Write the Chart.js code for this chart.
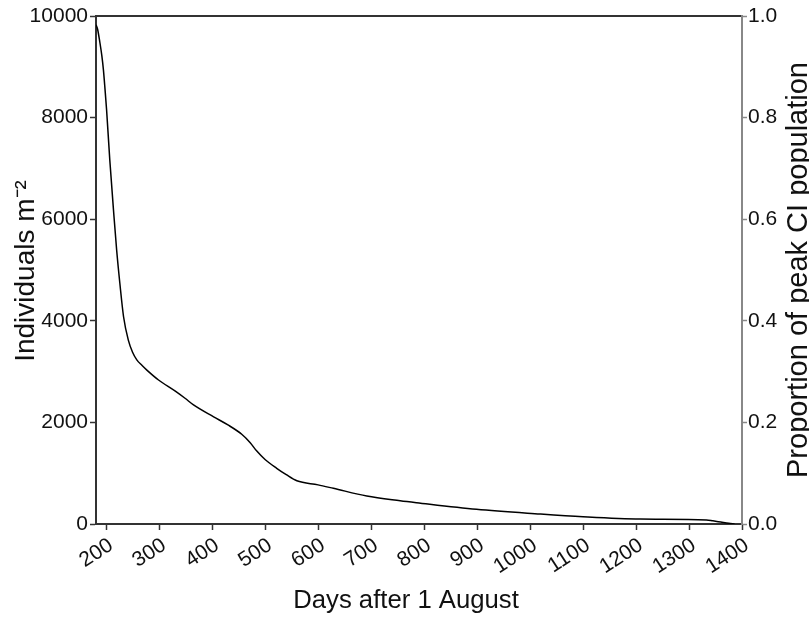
<!DOCTYPE html>
<html>
<head>
<meta charset="utf-8">
<script src="https://cdn.jsdelivr.net/npm/chart.js@4.4.1/dist/chart.umd.min.js"></script>
<style>
html,body{margin:0;padding:0;background:#fff;}
#wrap{width:809px;height:617px;position:relative;}
</style>
</head>
<body>
<div id="wrap"><canvas id="c" width="809" height="617"></canvas></div>
<script>
const days = [181, 184, 188, 192, 195, 198, 201, 207, 214, 220, 226, 233, 242, 250, 258, 268, 277, 299, 330, 349, 365, 403, 430, 456, 472, 484, 500, 522, 540, 560, 600, 629, 692, 755, 786, 899, 1019, 1100, 1208, 1333, 1345, 1360, 1375, 1386];
const individuals = [9830, 9740, 9500, 9220, 8940, 8560, 8150, 7170, 6180, 5390, 4740, 4080, 3620, 3380, 3230, 3120, 3030, 2835, 2620, 2475, 2345, 2110, 1950, 1766, 1600, 1440, 1270, 1096, 970, 850, 770, 702, 551, 459, 420, 289, 197, 144, 98, 79, 62, 38, 14, 0];
const xTicks = [200, 300, 400, 500, 600, 700, 800, 900, 1000, 1100, 1200, 1300, 1400];
const yTicks = [0, 2000, 4000, 6000, 8000, 10000];
const propTicks = [0, 0.2, 0.4, 0.6, 0.8, 1.0];
const xTitle = 'Days after 1 August';
const yTitle = 'Individuals m\u207B\u00B2';
const y2Title = 'Proportion of peak CI population';

const FONT = 'Liberation Sans, Arial, Helvetica, sans-serif';
const TXT = '#111';

const axisTitles = {
  id: 'axisTitles',
  afterDraw(chart) {
    const ctx = chart.ctx;
    const a = chart.chartArea;
    const cy = (a.top + a.bottom) / 2;
    ctx.save();
    ctx.fillStyle = TXT;
    ctx.textAlign = 'center';
    ctx.textBaseline = 'alphabetic';
    // bottom title
    ctx.font = '25.7px ' + FONT;
    ctx.fillText(xTitle, 406, 608);
    // left title
    ctx.save();
    ctx.translate(34, cy + 1);
    ctx.rotate(-Math.PI / 2);
    ctx.font = '28px ' + FONT;
    ctx.fillText(yTitle, 0, 0);
    ctx.restore();
    // right title
    ctx.save();
    ctx.translate(807, cy);
    ctx.rotate(-Math.PI / 2);
    ctx.font = '29px ' + FONT;
    ctx.fillText(y2Title, 0, 0);
    ctx.restore();
    ctx.restore();
  }
};

new Chart(document.getElementById('c'), {
  type: 'line',
  data: {
    datasets: [{
      data: days.map((d, i) => ({x: d, y: individuals[i]})),
      borderColor: '#000',
      borderWidth: 1.5,
      pointRadius: 0,
      fill: false,
      cubicInterpolationMode: 'monotone',
      yAxisID: 'y'
    }]
  },
  plugins: [axisTitles],
  options: {
    responsive: false,
    animation: false,
    layout: {padding: {top: 16, left: 0, right: 0, bottom: 0}},
    plugins: {legend: {display: false}, tooltip: {enabled: false}},
    scales: {
      x: {
        type: 'linear', position: 'bottom', min: 181, max: 1400,
        afterBuildTicks: s => { s.ticks = xTicks.map(v => ({value: v})); },
        afterFit: s => { s.height = 93; },
        grid: {display: true, drawOnChartArea: false, drawTicks: true, tickLength: 6, color: '#333', tickWidth: 1.5},
        border: {display: true, color: '#333', width: 2},
        ticks: {font: {family: FONT, size: 21}, color: TXT, minRotation: 33, maxRotation: 33, padding: 3, labelOffset: 5, callback: v => String(v)},
        title: {display: false}
      },
      xTop: {
        type: 'linear', position: 'top', min: 181, max: 1400,
        afterFit: s => { s.height = 0; },
        grid: {display: false},
        border: {display: true, color: '#333', width: 2},
        ticks: {display: false}
      },
      y: {
        type: 'linear', position: 'left', min: 0, max: 10000,
        afterBuildTicks: s => { s.ticks = yTicks.map(v => ({value: v})); },
        afterFit: s => { s.width = 96; },
        grid: {display: true, drawOnChartArea: false, drawTicks: true, tickLength: 6, color: '#333', tickWidth: 1.5},
        border: {display: true, color: '#333', width: 2},
        ticks: {font: {family: FONT, size: 21}, color: TXT, padding: 2, callback: v => String(v)},
        title: {display: false}
      },
      y2: {
        type: 'linear', position: 'right', min: 0, max: 1.0,
        afterBuildTicks: s => { s.ticks = propTicks.map(v => ({value: v})); },
        afterFit: s => { s.width = 67; },
        grid: {display: true, drawOnChartArea: false, drawTicks: true, tickLength: 5, color: '#888', tickWidth: 1.5},
        border: {display: true, color: '#888', width: 2},
        ticks: {font: {family: FONT, size: 21}, color: TXT, padding: 1, callback: v => v.toFixed(1)},
        title: {display: false}
      }
    }
  }
});
</script>
</body>
</html>
